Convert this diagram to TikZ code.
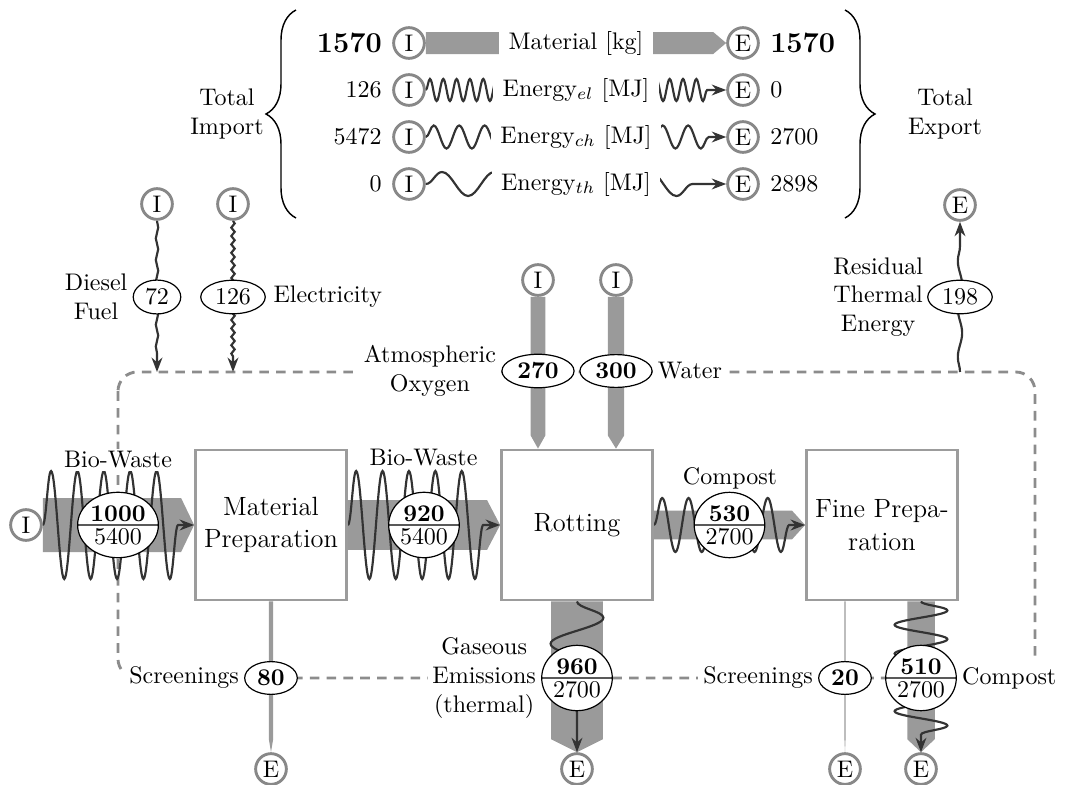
\documentclass[tikz,border=0pt]{standalone}
\usetikzlibrary{calc,shapes.geometric,shapes.multipart,decorations.pathmorphing,decorations.pathreplacing,arrows.meta}
\definecolor{matgray}{HTML}{9A9A9A}
\definecolor{boxgray}{HTML}{9C9C9C}
\definecolor{circgray}{HTML}{888888}
\definecolor{bndgray}{HTML}{8C8C8C}
\definecolor{engray}{HTML}{333333}
\pgfdeclarelayer{bg}
\pgfdeclarelayer{mid}
\pgfsetlayers{bg,mid,main}
\newcommand\mbarH[3]{\fill[matgray] ($(#1)+(0,-#3/2)$) -- ($(#2)+(-13,-#3/2)$) -- (#2) -- ($(#2)+(-13,#3/2)$) -- ($(#1)+(0,#3/2)$) -- cycle;}
\newcommand\mbarV[3]{\fill[matgray] ($(#1)+(-#3/2,0)$) -- ($(#2)+(-#3/2,-13)$) -- (#2) -- ($(#2)+(#3/2,-13)$) -- ($(#1)+(#3/2,0)$) -- cycle;}
\tikzset{
  io/.style={circle, draw=circgray, line width=1.2pt, fill=white, inner sep=0pt, minimum size=12.8pt},
  proc/.style={draw=boxgray, line width=1.2pt, fill=white, minimum width=62.9pt, minimum height=62.5pt, align=center, inner sep=0pt, font=\fontsize{11}{13.5}\selectfont},
  val/.style={ellipse, draw, line width=0.5pt, fill=white, inner xsep=2pt, inner ysep=1.5pt},
  bval/.style={val, font=\bfseries},
  twoval/.style={ellipse split, draw, line width=0.5pt, fill=white, inner xsep=0.4pt, inner ysep=1.2pt},
  lbl/.style={fill=white, align=center, inner sep=2pt},
  leg/.style={fill=white, inner xsep=4pt, inner ysep=2pt},
  energy/.style={draw=engray, line width=0.9pt, decorate, -{Stealth[length=6pt,width=4.5pt]}},
  snk/.style n args={3}{decoration={snake, amplitude=#1, segment length=#2, post length=#3}},
  boundary/.style={draw=bndgray, line width=1.2pt, dash pattern=on 4pt off 3pt, rounded corners=8pt},
  brc/.style={draw=black, line width=0.6pt, decorate, decoration={brace, amplitude=12.5pt}},
}
\begin{document}
\begin{tikzpicture}[x=0.4167pt,y=-0.4167pt]
\useasboundingbox (0,0) rectangle (1066,785);
% ---------- legend ----------
\node[io] (LI1) at (409,43) {I};
\node[io] (LI2) at (409,90) {I};
\node[io] (LI3) at (409,137) {I};
\node[io] (LI4) at (409,184) {I};
\node[io] (LE1) at (743,43) {E};
\node[io] (LE2) at (743,90) {E};
\node[io] (LE3) at (743,137) {E};
\node[io] (LE4) at (743,184) {E};
\node[leg] (LL1) at ($(LI1)!0.5!(LE1)$) {Material [kg]};
\node[leg] (LL2) at ($(LI2)!0.5!(LE2)$) {Energy$_{el}$ [MJ]};
\node[leg] (LL3) at ($(LI3)!0.5!(LE3)$) {Energy$_{ch}$ [MJ]};
\node[leg] (LL4) at ($(LI4)!0.5!(LE4)$) {Energy$_{th}$ [MJ]};
\node[anchor=east, font=\large\bfseries] (LN1) at ($(LI1.west)+(-2,0)$) {1570};
\node[anchor=east] (LN2) at ($(LI2.west)+(-2,0)$) {126};
\node[anchor=east] (LN3) at ($(LI3.west)+(-2,0)$) {5472};
\node[anchor=east] (LN4) at ($(LI4.west)+(-2,0)$) {0};
\node[anchor=west, font=\large\bfseries] (RN1) at ($(LE1.east)+(2,0)$) {1570};
\node[anchor=west] (RN2) at ($(LE2.east)+(2,0)$) {0};
\node[anchor=west] (RN3) at ($(LE3.east)+(2,0)$) {2700};
\node[anchor=west] (RN4) at ($(LE4.east)+(2,0)$) {2898};
\node[align=center] (TI) at (227,114) {Total\\Import};
\node[align=center] (TE) at (945,114) {Total\\Export};
\draw[brc] (296,218) -- (296,10);
\draw[brc] (845,10) -- (845,218);
% ---------- processes ----------
\node[proc] (Mat) at (271,525) {Material\\Preparation};
\node[proc] (Rot) at (577,525) {Rotting};
\node[proc] (Fine) at (882,525) {Fine Prepa-\\ration};
% ---------- import / export ----------
\node[io] (I0) at (26,525) {I};
\node[io] (Id) at (157,204) {I};
\node[io] (Iel) at (233,204) {I};
\node[io] (IO) at (538,280) {I};
\node[io] (IW) at (616,280) {I};
\node[io] (Eres) at (960,205) {E};
\node[io] (E1) at (271,769) {E};
\node[io] (E2) at (577,769) {E};
\node[io] (E3) at (845,769) {E};
\node[io] (E4) at (921,769) {E};
\coordinate (dB) at (157,372);
\coordinate (eB) at (233,372);
\coordinate (rB) at (960,372);
\coordinate (oxEnd) at (IO |- Rot.north);
\coordinate (wEnd) at (IW |- Rot.north);
\coordinate (scrS) at (E3 |- Fine.south);
\coordinate (cmpS) at (E4 |- Fine.south);
% ---------- values ----------
\node[twoval] (v1000) at (118,525) {\textbf{1000}\nodepart{lower}5400};
\node[twoval] (v920) at ($(Mat.east)!0.5!(Rot.west)$) {\textbf{920}\nodepart{lower}5400};
\node[twoval] (v530) at ($(Rot.east)!0.5!(Fine.west)$) {\textbf{530}\nodepart{lower}2700};
\node[twoval] (v960) at (577,678) {\textbf{960}\nodepart{lower}2700};
\node[twoval] (v510) at (921,678) {\textbf{510}\nodepart{lower}2700};
\node[val] (v72) at (157,297) {72};
\node[val] (v126) at (233,297) {126};
\node[val] (v198) at (960,297) {198};
\node[bval] (v270) at (538,371) {270};
\node[bval] (v300) at (616,371) {300};
\node[bval] (v80) at (271,678) {80};
\node[bval] (v20) at (845,678) {20};
% ---------- labels ----------
\node[lbl, inner sep=1pt] (tBW1) at (118,460) {Bio-Waste};
\node[lbl, inner sep=1pt] (tBW2) at (423.5,458) {Bio-Waste};
\node[lbl, inner sep=1pt] (tCP1) at (730,478) {Compost};
\node[lbl, anchor=east] (tDi) at (v72.west) {Diesel\\Fuel};
\node[lbl, anchor=west, inner xsep=3pt] (tEl) at (v126.east) {Electricity};
\node[lbl, anchor=east] (tOx) at (v270.west) {Atmospheric\\Oxygen};
\node[lbl, anchor=west] (tWa) at (v300.east) {Water};
\node[lbl, anchor=east, inner sep=1.5pt] (tRe) at (v198.west) {Residual\\Thermal\\Energy};
\node[lbl, anchor=east] (tSc1) at (v80.west) {Screenings};
\node[lbl, anchor=east] (tGa) at (v960.west) {Gaseous\\Emissions\\(thermal)};
\node[lbl, anchor=east] (tSc2) at (v20.west) {Screenings};
\node[lbl, anchor=west] (tCP2) at (v510.east) {Compost};
% ---------- boundary ----------
\begin{pgfonlayer}{bg}
\draw[boundary] (118,372) rectangle (1035,678);
\end{pgfonlayer}
% ---------- flows ----------
\begin{pgfonlayer}{mid}
\mbarH{LI1.east}{LE1.west}{22}
\draw[energy, snk={4.6pt}{5.55pt}{6pt}] (LI2.east) -- (LE2.west);
\draw[energy, snk={4.8pt}{10.6pt}{6pt}] (LI3.east) -- (LE3.west);
\draw[energy, snk={5pt}{21.7pt}{6pt}] (LI4.east) -- (LE4.west);
% material
\mbarH{I0.east}{Mat.west}{54}
\mbarH{Mat.east}{Rot.west}{49.7}
\mbarH{Rot.east}{Fine.west}{28.6}
\mbarV{IO.south}{oxEnd}{14.6}
\mbarV{IW.south}{wEnd}{16.2}
\mbarV{Mat.south}{E1.north}{4.3}
\mbarV{Rot.south}{E2.north}{51.8}
\mbarV{scrS}{E3.north}{1.1}
\mbarV{cmpS}{E4.north}{27.5}
% energy
\draw[energy, snk={22.5pt}{11pt}{5pt}] (I0.east) -- (Mat.west);
\draw[energy, snk={22.5pt}{11pt}{5pt}] (Mat.east) -- (Rot.west);
\draw[energy, snk={11.25pt}{11pt}{5pt}] (Rot.east) -- (Fine.west);
\draw[energy, snk={11pt}{21.7pt}{10pt}] (Rot.south) -- (E2.north);
\draw[energy, snk={11pt}{12pt}{5pt}] (cmpS) -- (E4.north);
\draw[energy, snk={0.5pt}{9pt}{6pt}] (Id.south) -- (dB);
\draw[energy, snk={0.7pt}{3.5pt}{6pt}] (Iel.south) -- (eB);
\draw[energy, snk={0.9pt}{20pt}{6pt}] (rB) -- (Eres.south);
\end{pgfonlayer}
\end{tikzpicture}
\end{document}
